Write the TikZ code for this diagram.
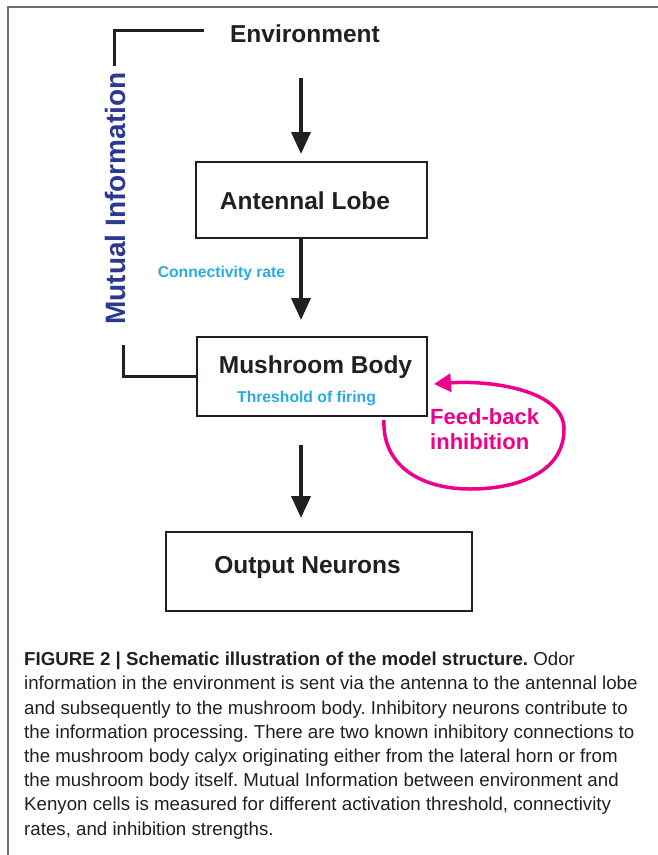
\documentclass[tikz,border=0pt]{standalone}
\usepackage{fontspec}
\setsansfont{Liberation Sans}
\usepackage{tikz}
\usetikzlibrary{arrows.meta,positioning}
\definecolor{figInk}{HTML}{231F20}
\definecolor{figNavy}{HTML}{2B3990}
\definecolor{figCyan}{HTML}{29ABE2}
\definecolor{figMagenta}{HTML}{EC008C}
\definecolor{figFrame}{HTML}{6D6E71}
\frenchspacing
\tikzset{
  every picture/.style={font=\sffamily, text=figInk},
  fig box/.style={draw=figInk, line width=2pt, fill=white, inner sep=0pt},
  fig title/.style={font=\sffamily\bfseries\fontsize{24.5}{29}\selectfont,
    inner sep=0pt, anchor=base},
  fig param/.style={font=\sffamily\bfseries\fontsize{15.7}{19}\selectfont,
    text=figCyan, inner sep=0pt, anchor=base},
  fig flow/.style={-{Triangle[length=22pt,width=19pt]},
    draw=figInk, line width=3.8pt},
  fig bracket/.style={draw=figInk, line width=3pt},
  fig loop/.style={-{Triangle[length=17pt,width=18pt]},
    draw=figMagenta, line width=3.5pt},
  fig frame/.style={draw=figFrame, line width=2pt},
  fig caption/.style={font=\sffamily\fontsize{18.7}{24.2}\selectfont,
    align=left, inner sep=0pt, anchor=north west}
}
\begin{document}
\begin{tikzpicture}[x=1pt,y=-1pt]
  \useasboundingbox (0,0) rectangle (658,855);
  \draw[fig frame] (7.5,855) -- (7.5,6.5) -- (658,6.5);
  \coordinate (spine) at (301,0);
  % boxes
  \node[fig box, minimum width=231pt, minimum height=76pt] (albox) at (311.5,200) {};
  \node[fig box, minimum width=230pt, minimum height=79pt] (mbbox) at (312,376.5) {};
  \node[fig box, minimum width=306pt, minimum height=79pt] (outbox) at (319,571.5) {};
  % labels
  \node[fig title] (env) at (305,42) {Environment};
  \node[fig title] (al) at (305,209) {Antennal Lobe};
  \node[fig title] (mb) at (315.5,373) {Mushroom Body};
  \node[fig title] (out) at (307.5,573) {Output Neurons};
  \node[fig param] (conn) at (221.5,277) {Connectivity rate};
  \node[fig param] (thr) at (306.5,402) {Threshold of firing};
  \node[font=\sffamily\bfseries\fontsize{28}{32}\selectfont, text=figNavy,
    rotate=90, anchor=base, inner sep=0pt] (mi) at (125,198.5) {Mutual Information};
  \node[font=\sffamily\bfseries\fontsize{22}{25}\selectfont, text=figMagenta,
    align=left, anchor=north west, inner sep=0pt] (fb) at (430,408) {Feed-back\\inhibition};
  % flow
  \draw[fig flow, shorten <=36pt, shorten >=7pt] (env.south -| spine) -- (albox.north -| spine);
  \draw[fig flow, shorten >=16pt] (albox.south -| spine) -- (mbbox.north -| spine);
  \draw[fig flow, shorten <=28pt, shorten >=13pt] (mbbox.south -| spine) -- (outbox.north -| spine);
  % mutual information bracket
  \draw[fig bracket] ([xshift=-26pt,yshift=3pt]env.west) -| ([yshift=6.5pt]mi.east);
  \draw[fig bracket] (mbbox.west) -| ([xshift=8.5pt,yshift=-20pt]mi.west);
  % feed-back loop
  \coordinate (fbbottom) at (470,489);
  \coordinate (fbright) at (564,428);
  \draw[fig loop] ([xshift=-44pt,yshift=-3pt]mbbox.south east)
    .. controls +(-2,45) and +(-50,0) .. (fbbottom)
    .. controls +(55,0) and +(1,40) .. (fbright)
    .. controls +(-1,-38) and +(56,-4) .. ([xshift=6pt,yshift=-7.5pt]mbbox.east);
  % caption
  \node[fig caption] (cap) at (24,652) {\textbf{FIGURE 2 | Schematic illustration of the model structure.} Odor\\
    information in the environment is sent via the antenna to the antennal lobe\\
    and subsequently to the mushroom body. Inhibitory neurons contribute to\\
    the information processing. There are two known inhibitory connections to\\
    the mushroom body calyx originating either from the lateral horn or from\\
    the mushroom body itself. Mutual Information between environment and\\
    Kenyon cells is measured for different activation threshold, connectivity\\
    rates, and inhibition strengths.};
\end{tikzpicture}
\end{document}
